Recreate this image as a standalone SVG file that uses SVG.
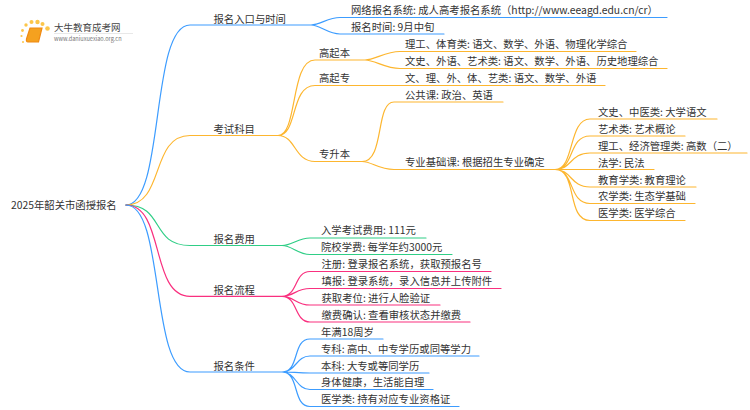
<svg xmlns="http://www.w3.org/2000/svg" width="750" height="410" viewBox="0 0 750 410">
<style>
text{font-family:"Noto Sans CJK SC","Noto Sans",sans-serif;font-size:10.35px;fill:#333}
path{fill:none;stroke-width:1.2;stroke-linecap:round}
.b{stroke:#3c9cff}.o{stroke:#fdb62f}.g{stroke:#2fce86}.p{stroke:#f9307f}
</style>
<rect width="750" height="410" fill="#fff"/>
<g id="logo">
<g fill="#fcc64a"><circle cx="47.500" cy="28.500" r="2.300"/><circle cx="42.500" cy="24" r="2"/><circle cx="37.500" cy="22" r="2.200"/><circle cx="31.500" cy="22" r="2"/><circle cx="26" cy="25" r="1.700"/><circle cx="22.500" cy="30.500" r="1.400"/><circle cx="21.500" cy="36" r="1.100"/><circle cx="23" cy="42" r="1"/></g>
<path d="M30 28H42L38.500 42H28Q26 42 26.500 39Z" style="fill:#f5a11f;stroke:#f08a12"/>
<line x1="54" y1="33.500" x2="133" y2="33.500" stroke="#e8e8e8"/>
<text x="54" y="31" style="font-size:9.500px;fill:#444">大牛教育成考网</text>
<text x="54" y="41" style="font-size:5.600px;fill:#777">www.daniuxuexiao.org.cn</text>
</g>
<g id="connectors">
<path class="b" d="M126 205C165 205 150 25 190 25H311C320 25 328 17.500 340 17.500H667M311 25C320 25 328 34 340 34H444"/>
<path class="o" d="M126 205C165 205 150 135.500 190 135.500H278C298 135.500 290 60 315 60H365C375 60 385 51.500 400 51.500H636M365 60C375 60 385 68.500 400 68.500H667M278 135.500C298 135.500 290 85.500 315 85.500H605M278 135.500C296 135.500 294 161.500 315 161.500H362C385 161.500 375 102 394 102H503M362 161.500C372 161.500 378 169.500 394 169.500H555"/>
<path class="o" d="M555 169.500C575 169.500 568 119 590 119H717M555 169.500C575 169.500 568 136 590 136H685M555 169.500C572 169.500 570 153 590 153H747M555 169.500H654M555 169.500C572 169.500 570 187 590 187H696M555 169.500C575 169.500 568 203.500 590 203.500H695M555 169.500C578 169.500 566 220.500 590 220.500H685"/>
<path class="g" d="M126 205C165 205 150 245.500 190 245.500H282C292 245.500 298 238 310 238H426M282 245.500C292 245.500 298 254.500 310 254.500H452"/>
<path class="p" d="M126 205C165 205 150 296.300 190 296.300H282C298 296.300 294 271.500 310 271.500H491M282 296.300C294 296.300 296 288.500 310 288.500H501M282 296.300C294 296.300 296 305 310 305H440M282 296.300C298 296.300 294 322 310 322H470"/>
<path class="b" d="M126 205C165 205 150 372 190 372H282C300 372 292 339 310 339H383M282 372C296 372 296 356 310 356H479M282 372C292 372 298 373 310 373H429M282 372C296 372 296 389.500 310 389.500H433M282 372C300 372 292 406.500 310 406.500H459"/>
</g>
<g id="root"><text x="11" y="209">2025年韶关市函授报名</text></g>
<g id="n1"><text x="213.500" y="23">报名入口与时间</text></g>
<g id="n1a"><text x="351" y="14">网络报名系统: 成人高考报名系统（http://www.eeagd.edu.cn/cr）</text></g>
<g id="n1b"><text x="351" y="31">报名时间: 9月中旬</text></g>
<g id="n2"><text x="213.500" y="133">考试科目</text></g>
<g id="n2a"><text x="319" y="57">高起本</text></g>
<g id="n2a1"><text x="405" y="48">理工、体育类: 语文、数学、外语、物理化学综合</text></g>
<g id="n2a2"><text x="405" y="65">文史、外语、艺术类: 语文、数学、外语、历史地理综合</text></g>
<g id="n2b"><text x="319" y="82">高起专</text></g>
<g id="n2b1"><text x="405" y="82">文、理、外、体、艺类: 语文、数学、外语</text></g>
<g id="n2c"><text x="319" y="158">专升本</text></g>
<g id="n2c1"><text x="405" y="99">公共课: 政治、英语</text></g>
<g id="n2c2"><text x="405" y="166">专业基础课: 根据招生专业确定</text></g>
<g id="n2d1"><text x="598" y="116">文史、中医类: 大学语文</text></g>
<g id="n2d2"><text x="598" y="133">艺术类: 艺术概论</text></g>
<g id="n2d3"><text x="598" y="150">理工、经济管理类: 高数（二）</text></g>
<g id="n2d4"><text x="598" y="167">法学: 民法</text></g>
<g id="n2d5"><text x="598" y="184">教育学类: 教育理论</text></g>
<g id="n2d6"><text x="598" y="200">农学类: 生态学基础</text></g>
<g id="n2d7"><text x="598" y="217">医学类: 医学综合</text></g>
<g id="n3"><text x="213.500" y="243">报名费用</text></g>
<g id="n3a"><text x="321" y="234">入学考试费用: 111元</text></g>
<g id="n3b"><text x="321" y="251">院校学费: 每学年约3000元</text></g>
<g id="n4"><text x="213.500" y="293.500">报名流程</text></g>
<g id="n4a"><text x="321.500" y="268">注册: 登录报名系统，获取预报名号</text></g>
<g id="n4b"><text x="321.500" y="285">填报: 登录系统，录入信息并上传附件</text></g>
<g id="n4c"><text x="321.500" y="302">获取考位: 进行人脸验证</text></g>
<g id="n4d"><text x="321.500" y="318.500">缴费确认: 查看审核状态并缴费</text></g>
<g id="n5"><text x="213.500" y="369.500">报名条件</text></g>
<g id="n5a"><text x="321" y="335.500">年满18周岁</text></g>
<g id="n5b"><text x="321" y="352.500">专科: 高中、中专学历或同等学力</text></g>
<g id="n5c"><text x="321" y="369.500">本科: 大专或等同学历</text></g>
<g id="n5d"><text x="321" y="386">身体健康，生活能自理</text></g>
<g id="n5e"><text x="321" y="403">医学类: 持有对应专业资格证</text></g>
</svg>
